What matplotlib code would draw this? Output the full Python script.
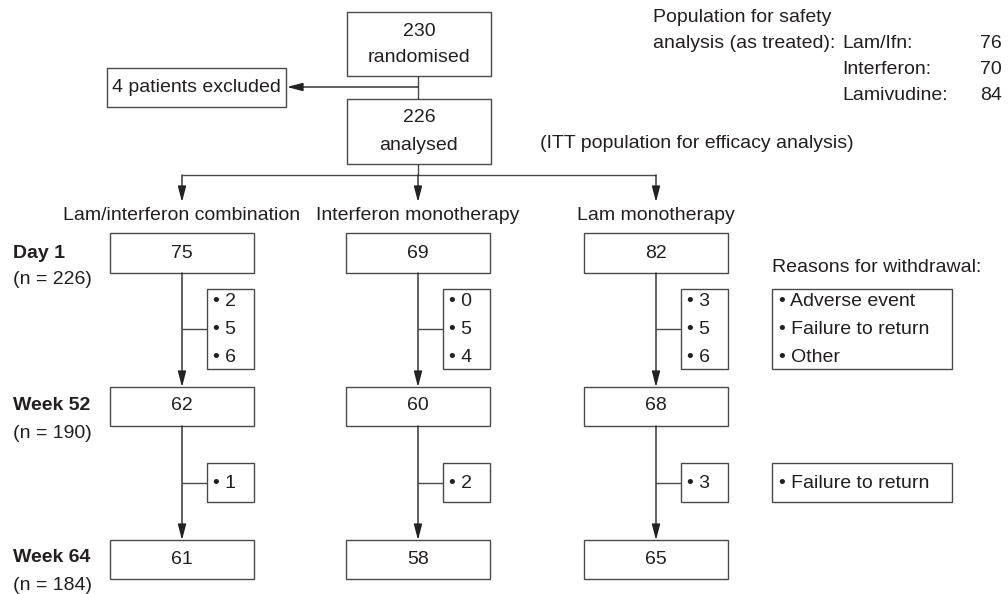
import matplotlib.pyplot as plt
from matplotlib.patches import Rectangle

plt.rcParams['font.family'] = ['Liberation Sans', 'DejaVu Sans']

# Daten
groups = ['Lam/interferon combination', 'Interferon monotherapy', 'Lam monotherapy']
day1 = [75, 69, 82]
week52 = [62, 60, 68]
week64 = [61, 58, 65]
withdraw_1 = [[2, 5, 6], [0, 5, 4], [3, 5, 6]]
withdraw_2 = [[1], [2], [3]]
reasons_1 = ['Adverse event', 'Failure to return', 'Other']
reasons_2 = ['Failure to return']
safety_labels = ['Lam/Ifn:', 'Interferon:', 'Lamivudine:']
safety_n = [76, 70, 84]
timepoints = ['Day 1', 'Week 52', 'Week 64']
timepoint_n = [226, 190, 184]
n_randomised = 230
n_excluded = 4
n_analysed = 226

TXT = '#231f20'
EDGE = '#4a4a4a'
FS = 14

fig = plt.figure(figsize=(10.08, 5.94), dpi=100)
ax = fig.add_axes([0, 0, 1, 1])
ax.set_xlim(0, 1008)
ax.set_ylim(594, 0)
ax.axis('off')


def box(x0, y0, x1, y1):
    ax.add_patch(Rectangle((x0, y0), x1 - x0, y1 - y0, fill=False, ec=EDGE, lw=1.0))


def line(xs, ys):
    ax.plot(xs, ys, color=EDGE, lw=1.0, solid_capstyle='butt')


def arrow(x0, y0, x1, y1):
    ax.annotate('', xy=(x1, y1), xytext=(x0, y0),
                arrowprops=dict(arrowstyle='-|>,head_length=0.95,head_width=0.25',
                                mutation_scale=10, lw=1.0, color='#222222',
                                shrinkA=0, shrinkB=0))


def txt(x, y, s, ha='center', **kw):
    ax.text(x, y, s, ha=ha, va='center', fontsize=FS, color=TXT, **kw)


# oberer Teil
box(347, 12, 491, 76)
txt(419, 31, str(n_randomised))
txt(419, 58, 'randomised')
line([418, 418], [76, 99])
arrow(418, 87, 287, 87)
box(107, 68, 286, 107)
txt(196, 88, f'{n_excluded} patients excluded')
box(347, 99, 491, 164)
txt(419, 118, str(n_analysed))
txt(419, 146, 'analysed')
txt(540, 144, '(ITT population for efficacy analysis)', ha='left')

# Sicherheitspopulation
txt(653, 18, 'Population for safety', ha='left')
txt(653, 44, 'analysis (as treated):', ha='left')
for i, (lab, n) in enumerate(zip(safety_labels, safety_n)):
    txt(842, 44 + 26 * i, lab, ha='left')
    txt(1002, 44 + 26 * i, str(n), ha='right')

# Verzweigung
cx = [182, 418, 656]
line([418, 418], [164, 175])
line([cx[0], cx[2]], [175, 175])
for c, g in zip(cx, groups):
    arrow(c, 175, c, 202)
    txt(c, 216, g)

# Zeitpunkte links
row_y = [253, 406, 558]
for y, t, n in zip(row_y, timepoints, timepoint_n):
    txt(13, y, t, ha='left', fontweight='bold')
    txt(13, y + 27, f'(n = {n})', ha='left')

# Spalten
for i, c in enumerate(cx):
    box(c - 72, 233, c + 72, 273)
    txt(c, 253, str(day1[i]))
    box(c - 72, 387, c + 72, 426)
    txt(c, 406, str(week52[i]))
    box(c - 72, 540, c + 72, 579)
    txt(c, 560, str(week64[i]))

    arrow(c, 273, c, 387)
    line([c, c + 25], [329, 329])
    box(c + 25, 289, c + 72, 369)
    for k, v in enumerate(withdraw_1[i]):
        txt(c + 31, 302 + 28 * k, f'\u2022 {v}', ha='left')

    arrow(c, 426, c, 540)
    line([c, c + 25], [483, 483])
    box(c + 25, 463, c + 72, 502)
    for k, v in enumerate(withdraw_2[i]):
        txt(c + 31, 483 + 28 * k, f'\u2022 {v}', ha='left')

# Gründe
txt(772, 267, 'Reasons for withdrawal:', ha='left')
box(772, 289, 952, 369)
for k, r in enumerate(reasons_1):
    txt(779, 302 + 28 * k, f'\u2022 {r}', ha='left')
box(772, 463, 952, 502)
for k, r in enumerate(reasons_2):
    txt(779, 483 + 28 * k, f'\u2022 {r}', ha='left')

fig.savefig('out.png', dpi=100)
